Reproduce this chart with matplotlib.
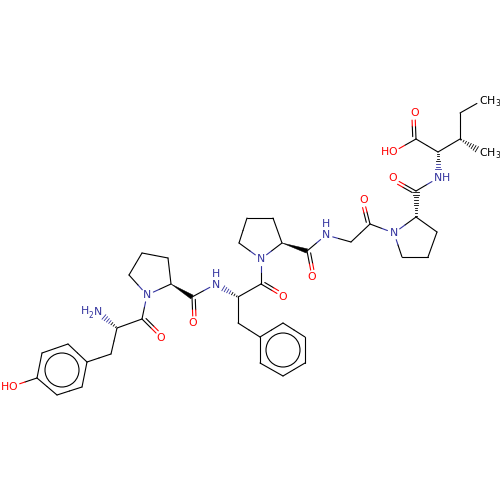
import numpy as np
import matplotlib
matplotlib.use("Agg")
import matplotlib.pyplot as plt

BLACK = "#000000"
BLUE = "#33339f"
RED = "#ff0000"

# atom positions
atoms = {
    "O_tyr": (13, 386), "c1": (37, 378), "c2": (42, 353), "c3": (68, 344), "c4": (87, 362),
    "c5": (82, 387), "c6": (57, 395), "cb1": (111, 354), "ca1": (117, 328), "n_h2": (98, 312),
    "co1": (142, 319), "o1": (161, 338), "n2": (147, 295), "p1": (129, 275), "p2": (142, 253),
    "p3": (168, 258), "p4": (171, 284), "co2": (192, 297), "o2": (193, 323), "n3": (216, 284),
    "ca3": (238, 297), "cb3": (238, 323), "ph1": (260, 337), "ph2": (283, 323), "ph3": (305, 337),
    "ph4": (305, 363), "ph5": (283, 376), "ph6": (260, 363), "co3": (261, 284), "o3": (283, 297),
    "n4": (261, 259), "q1": (239, 243), "q2": (247, 218), "q3": (273, 218), "q4": (282, 243),
    "co4": (307, 251), "o4": (312, 277), "n5": (326, 235), "cg": (351, 242), "co5": (370, 224),
    "o5": (364, 200), "n6": (394, 233), "r1": (402, 257), "r2": (428, 257), "r3": (437, 232),
    "r4": (416, 217), "co6": (416, 191), "o6": (393, 178), "n7": (438, 178), "ca7": (438, 152),
    "cooh": (416, 139), "o7": (415, 113), "oh": (393, 152), "cb7": (460, 139), "cg7": (460, 113),
    "cd7": (483, 100), "cm7": (483, 153),
}
hetero = {"O_tyr": RED, "n_h2": BLUE, "o1": RED, "n2": BLUE, "o2": RED, "n3": BLUE, "o3": RED,
          "n4": BLUE, "o4": RED, "n5": BLUE, "o5": RED, "n6": BLUE, "o6": RED, "n7": BLUE,
          "o7": RED, "oh": RED, "cd7": BLACK, "cm7": BLACK}

single_bonds = [
    ("c1", "O_tyr"), ("c1", "c2"), ("c2", "c3"), ("c3", "c4"), ("c4", "c5"), ("c5", "c6"), ("c6", "c1"),
    ("c4", "cb1"), ("cb1", "ca1"), ("ca1", "co1"), ("co1", "n2"), ("n2", "p1"), ("p1", "p2"),
    ("p2", "p3"), ("p3", "p4"), ("p4", "n2"), ("co2", "n3"), ("ca3", "co3"), ("ca3", "cb3"),
    ("cb3", "ph1"), ("ph1", "ph2"), ("ph2", "ph3"), ("ph3", "ph4"), ("ph4", "ph5"), ("ph5", "ph6"),
    ("ph6", "ph1"), ("co3", "n4"), ("n4", "q1"), ("q1", "q2"), ("q2", "q3"), ("q3", "q4"), ("q4", "n4"),
    ("co4", "n5"), ("n5", "cg"), ("cg", "co5"), ("co5", "n6"), ("n6", "r1"), ("r1", "r2"), ("r2", "r3"),
    ("r3", "r4"), ("r4", "n6"), ("co6", "n7"), ("ca7", "cooh"), ("cooh", "oh"), ("ca7", "cb7"),
    ("cb7", "cg7"), ("cg7", "cd7"),
]
double_bonds = [("co1", "o1"), ("co2", "o2"), ("co3", "o3"), ("co4", "o4"), ("co5", "o5"),
                ("co6", "o6"), ("cooh", "o7")]
wedge_bonds = [("p4", "co2"), ("q4", "co4")]
hash_bonds = [("ca1", "n_h2"), ("ca3", "n3"), ("r4", "co6"), ("ca7", "n7"), ("cb7", "cm7")]
ring_centers = [(62, 370), (283, 350)]
ring_radius = 17

# text, x, y, colour, size
labels = [
    ("H", 5.5, 386.5, RED, 7.8), ("O", 13, 386.5, RED, 7.8), ("H", 85, 311, BLUE, 7.8), ("2", 91, 316, BLUE, 5.5),
    ("N", 98, 312, BLUE, 7.8), ("O", 161, 338, RED, 7.8), ("N", 147, 295, BLUE, 7.8), ("O", 193, 323, RED, 7.8),
    ("N", 216, 285, BLUE, 7.8), ("H", 216, 274, BLUE, 7.8), ("O", 283, 297, RED, 7.8), ("N", 261, 259, BLUE, 7.8),
    ("O", 312, 277, RED, 7.8), ("N", 326, 235, BLUE, 7.8), ("H", 326, 224, BLUE, 7.8), ("O", 364, 200, RED, 7.8),
    ("N", 394, 233, BLUE, 7.8), ("O", 393, 178, RED, 7.8), ("N", 438, 178, BLUE, 7.8), ("H", 446, 178, BLUE, 7.8),
    ("O", 415, 113, RED, 7.8), ("H", 385, 152, RED, 7.8), ("O", 393, 152, RED, 7.8), ("C", 483, 101, BLACK, 7.8),
    ("H", 491, 101, BLACK, 7.8), ("3", 498, 104, BLACK, 5.5), ("C", 483, 153, BLACK, 7.8), ("H", 491, 153, BLACK, 7.8),
    ("3", 498, 156, BLACK, 5.5),
]

GAP = 7
LINE = 0.8


def trimmed(a, b):
    p = np.array(atoms[a], float)
    q = np.array(atoms[b], float)
    u = (q - p) / np.linalg.norm(q - p)
    mid = (p + q) / 2
    start = p + u * GAP if a in hetero else p
    end = q - u * GAP if b in hetero else q
    return start, mid, end, u


def draw_bond(ax, start, mid, end, a, b):
    ax.plot([start[0], mid[0]], [start[1], mid[1]], color=hetero.get(a, BLACK), lw=LINE, solid_capstyle="round")
    ax.plot([mid[0], end[0]], [mid[1], end[1]], color=hetero.get(b, BLACK), lw=LINE, solid_capstyle="round")


fig = plt.figure(figsize=(5, 5), dpi=100)
ax = fig.add_axes([0, 0, 1, 1])
ax.set_xlim(0, 500)
ax.set_ylim(500, 0)
ax.axis("off")

for a, b in single_bonds:
    start, mid, end, u = trimmed(a, b)
    draw_bond(ax, start, mid, end, a, b)

for a, b in double_bonds:
    start, mid, end, u = trimmed(a, b)
    # main line on the axis, second one shifted and a bit shorter
    n = np.array([-u[1], u[0]]) * -3.2
    draw_bond(ax, start, mid, end, a, b)
    draw_bond(ax, start + n + u * 2.5, mid + n, end + n, a, b)

for a, b in wedge_bonds:
    p = np.array(atoms[a], float)
    q = np.array(atoms[b], float)
    u = (q - p) / np.linalg.norm(q - p)
    n = np.array([-u[1], u[0]]) * 2.2
    ax.fill([p[0], q[0] + n[0], q[0] - n[0]], [p[1], q[1] + n[1], q[1] - n[1]], color=BLACK, lw=0.3)

for a, b in hash_bonds:
    start, mid, end, u = trimmed(a, b)
    n = np.array([-u[1], u[0]])
    length = np.linalg.norm(end - start)
    for d in np.arange(1.5, length, 2.6):
        c = start + u * d
        half = 0.4 + 2.6 * d / length
        col = BLACK if d < length / 2 or b not in hetero else hetero[b]
        ax.plot([c[0] - n[0] * half, c[0] + n[0] * half], [c[1] - n[1] * half, c[1] + n[1] * half],
                color=col, lw=0.6)

for cx, cy in ring_centers:
    ax.add_patch(plt.Circle((cx, cy), ring_radius, fill=False, ec=BLACK, lw=LINE))

for text, x, y, col, size in labels:
    ax.text(x, y, text, color=col, fontsize=size, ha="center", va="center", family="DejaVu Sans")

fig.savefig("out.png", dpi=100, facecolor="white")
